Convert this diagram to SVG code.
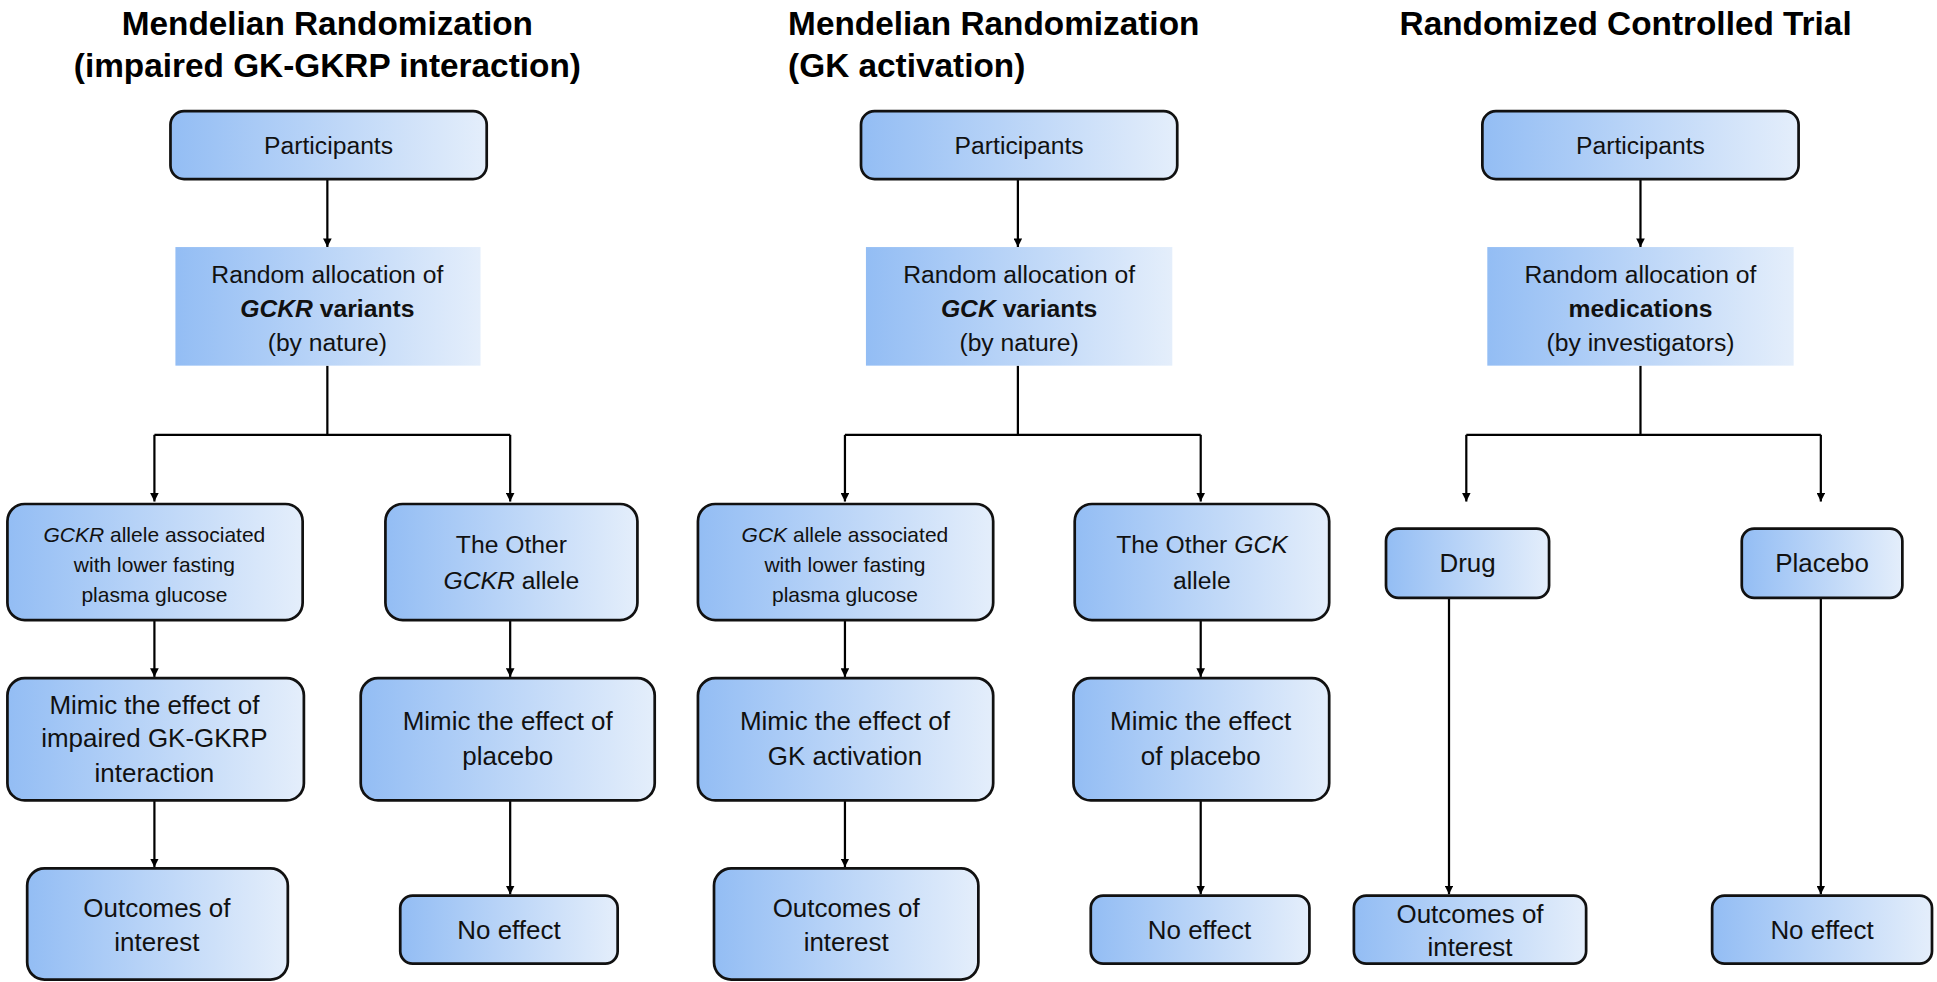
<svg xmlns="http://www.w3.org/2000/svg" width="1937" height="982" viewBox="0 0 1937 982">
<defs>
<linearGradient id="g" x1="0" y1="0" x2="1" y2="0"><stop offset="0" stop-color="#93bdf4"/><stop offset="1" stop-color="#e4eefb"/></linearGradient>
<marker id="a" viewBox="0 0 10 10" refX="10" refY="5" markerWidth="7" markerHeight="7" markerUnits="userSpaceOnUse" orient="auto"><path d="M0,0L10,5L0,10z" fill="#000"/></marker>
</defs>
<style>
.b{fill:url(#g);stroke:#111;stroke-width:2.2}
.n{fill:url(#g)}
text{font-family:"Liberation Sans",Arial,sans-serif;fill:#111;text-anchor:middle}
.t{font-size:27px;font-weight:bold;fill:#000}
.m{font-size:20px}
.s{font-size:17px}
.l{font-size:21px}
.c path{fill:none;stroke:#000;stroke-width:1.8}
.c .ar{marker-end:url(#a)}
</style>
<rect width="1937" height="982" fill="#fff"/>
<g transform="scale(1.2353)">
<g id="titles">
<text class="t" x="265" y="28">Mendelian Randomization</text>
<text class="t" x="265" y="62">(impaired GK-GKRP interaction)</text>
<text class="t" x="638" y="28" style="text-anchor:start">Mendelian Randomization</text>
<text class="t" x="638" y="62" style="text-anchor:start">(GK activation)</text>
<text class="t" x="1316" y="28">Randomized Controlled Trial</text>
</g>
<g class="c" id="connectors">
<path class="ar" d="M265,145V200"/>
<path d="M265,296V352M125,352H413"/>
<path class="ar" d="M125,352V406"/><path class="ar" d="M413,352V406"/>
<path class="ar" d="M125,502V548"/><path class="ar" d="M413,502V548"/>
<path class="ar" d="M125,648V702"/><path class="ar" d="M413,648V724"/>
<path class="ar" d="M824,145V200"/>
<path d="M824,296V352M684,352H972"/>
<path class="ar" d="M684,352V406"/><path class="ar" d="M972,352V406"/>
<path class="ar" d="M684,502V548"/><path class="ar" d="M972,502V548"/>
<path class="ar" d="M684,648V702"/><path class="ar" d="M972,648V724"/>
<path class="ar" d="M1328,145V200"/>
<path d="M1328,296V352M1187,352H1474"/>
<path class="ar" d="M1187,352V406"/><path class="ar" d="M1474,352V406"/>
<path class="ar" d="M1173,484V724"/><path class="ar" d="M1474,484V724"/>
</g>
<g id="n1"><rect class="b" x="138" y="90" width="256" height="55" rx="11"/><text class="m" x="266" y="125">Participants</text></g>
<g id="n2"><rect class="n" x="142" y="200" width="247" height="96"/><text class="m" x="265" y="229">Random allocation of</text><text class="m" x="265" y="257" font-weight="bold"><tspan font-style="italic">GCKR</tspan> variants</text><text class="m" x="265" y="284">(by nature)</text></g>
<g id="n3"><rect class="b" x="6" y="408" width="239" height="94" rx="14"/><text class="s" x="125" y="439"><tspan font-style="italic">GCKR</tspan> allele associated</text><text class="s" x="125" y="463">with lower fasting</text><text class="s" x="125" y="487">plasma glucose</text></g>
<g id="n4"><rect class="b" x="312" y="408" width="204" height="94" rx="14"/><text class="m" x="414" y="448">The Other</text><text class="m" x="414" y="477"><tspan font-style="italic">GCKR</tspan> allele</text></g>
<g id="n5"><rect class="b" x="6" y="549" width="240" height="99" rx="14"/><text class="l" x="125" y="578">Mimic the effect of</text><text class="l" x="125" y="605">impaired GK-GKRP</text><text class="l" x="125" y="633">interaction</text></g>
<g id="n6"><rect class="b" x="292" y="549" width="238" height="99" rx="14"/><text class="l" x="411" y="591">Mimic the effect of</text><text class="l" x="411" y="619">placebo</text></g>
<g id="n7"><rect class="b" x="22" y="703" width="211" height="90" rx="14"/><text class="l" x="127" y="742">Outcomes of</text><text class="l" x="127" y="770">interest</text></g>
<g id="n8"><rect class="b" x="324" y="725" width="176" height="55" rx="10"/><text class="l" x="412" y="760">No effect</text></g>

<g id="m1"><rect class="b" x="697" y="90" width="256" height="55" rx="11"/><text class="m" x="825" y="125">Participants</text></g>
<g id="m2"><rect class="n" x="701" y="200" width="248" height="96"/><text class="m" x="825" y="229">Random allocation of</text><text class="m" x="825" y="257" font-weight="bold"><tspan font-style="italic">GCK</tspan> variants</text><text class="m" x="825" y="284">(by nature)</text></g>
<g id="m3"><rect class="b" x="565" y="408" width="239" height="94" rx="14"/><text class="s" x="684" y="439"><tspan font-style="italic">GCK</tspan> allele associated</text><text class="s" x="684" y="463">with lower fasting</text><text class="s" x="684" y="487">plasma glucose</text></g>
<g id="m4"><rect class="b" x="870" y="408" width="206" height="94" rx="14"/><text class="m" x="973" y="448">The Other <tspan font-style="italic">GCK</tspan></text><text class="m" x="973" y="477">allele</text></g>
<g id="m5"><rect class="b" x="565" y="549" width="239" height="99" rx="14"/><text class="l" x="684" y="591">Mimic the effect of</text><text class="l" x="684" y="619">GK activation</text></g>
<g id="m6"><rect class="b" x="869" y="549" width="207" height="99" rx="14"/><text class="l" x="972" y="591">Mimic the effect</text><text class="l" x="972" y="619">of placebo</text></g>
<g id="m7"><rect class="b" x="578" y="703" width="214" height="90" rx="14"/><text class="l" x="685" y="742">Outcomes of</text><text class="l" x="685" y="770">interest</text></g>
<g id="m8"><rect class="b" x="883" y="725" width="177" height="55" rx="10"/><text class="l" x="971" y="760">No effect</text></g>

<g id="r1"><rect class="b" x="1200" y="90" width="256" height="55" rx="11"/><text class="m" x="1328" y="125">Participants</text></g>
<g id="r2"><rect class="n" x="1204" y="200" width="248" height="96"/><text class="m" x="1328" y="229">Random allocation of</text><text class="m" x="1328" y="257" font-weight="bold">medications</text><text class="m" x="1328" y="284">(by investigators)</text></g>
<g id="r3"><rect class="b" x="1122" y="428" width="132" height="56" rx="10"/><text class="l" x="1188" y="463">Drug</text></g>
<g id="r4"><rect class="b" x="1410" y="428" width="130" height="56" rx="10"/><text class="l" x="1475" y="463">Placebo</text></g>
<g id="r5"><rect class="b" x="1096" y="725" width="188" height="55" rx="10"/><text class="l" x="1190" y="747">Outcomes of</text><text class="l" x="1190" y="774">interest</text></g>
<g id="r6"><rect class="b" x="1386" y="725" width="178" height="55" rx="10"/><text class="l" x="1475" y="760">No effect</text></g>
</g>
</svg>
